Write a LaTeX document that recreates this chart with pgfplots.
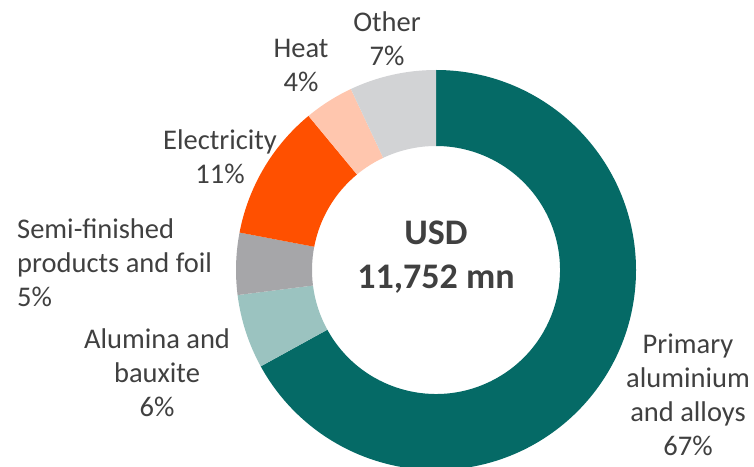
\documentclass[border=0pt]{standalone}
\usepackage{pgfplots}
\pgfplotsset{compat=1.18}
\usepackage{pgfplotstable}
\usepackage{fontspec}
\setmainfont{Carlito}

\definecolor{cPrim}{HTML}{056A66}
\definecolor{cAlum}{HTML}{9BC3C0}
\definecolor{cSemi}{HTML}{A6A6A9}
\definecolor{cElec}{HTML}{FF5000}
\definecolor{cHeat}{HTML}{FFC6AE}
\definecolor{cOther}{HTML}{D2D3D5}
\definecolor{txt}{HTML}{404040}

% share of total, percent, clockwise from 12 o'clock
\pgfplotstableread{
share color
67 cPrim
6  cAlum
5  cSemi
11 cElec
4  cHeat
7  cOther
}\shares

\newcommand\lbl{\fontsize{28.5}{34}\selectfont}

\begin{document}
\begin{tikzpicture}
\begin{axis}[
  hide axis, scale only axis,
  width=754pt, height=466pt,
  xmin=0, xmax=754, ymin=-466, ymax=0,
]
\coordinate (sw) at (rel axis cs:0,0);
\coordinate (ne) at (rel axis cs:1,1);

\pgfplotstablegetrowsof{\shares}
\pgfmathtruncatemacro\nrows{\pgfplotsretval-1}
\def\angA{90}
\pgfplotsforeachungrouped \i in {0,...,\nrows}{
  \pgfplotstablegetelem{\i}{share}\of\shares \let\wval\pgfplotsretval
  \pgfplotstablegetelem{\i}{color}\of\shares \let\wcol\pgfplotsretval
  \pgfmathsetmacro\angB{\angA-3.6*\wval}
  \edef\wedgecmd{\noexpand\fill[\wcol] (axis cs:436,-270) ++(\angA:200pt)
    arc[start angle=\angA, end angle=\angB, radius=200pt]
    -- ([shift={(\angB:124pt)}]axis cs:436,-270)
    arc[start angle=\angB, end angle=\angA, radius=124pt] -- cycle;}
  \wedgecmd
  \global\let\angA\angB
}

% anchor=base sits on the last line's baseline
\begin{scope}[every node/.style={text=txt, inner sep=0pt, font=\lbl}]
\node[anchor=base, align=center] at (axis cs:688,-455) {Primary\\aluminium\\and alloys\\67\%};
\node[anchor=base, align=center] at (axis cs:157,-416) {Alumina and\\bauxite\\6\%};
\node[anchor=base west, align=left] at (axis cs:17,-306) {Semi-finished\\products and foil\\5\%};
\node[anchor=base, align=center] at (axis cs:220,-184) {Electricity\\11\%};
\node[anchor=base, align=center] at (axis cs:301,-92) {Heat\\4\%};
\node[anchor=base, align=center] at (axis cs:387,-66) {Other\\7\%};
\node[anchor=base, align=center, font=\fontsize{36}{44}\selectfont\bfseries] at (axis cs:436,-289) {USD\\11,752 mn};
\end{scope}
\end{axis}
\pgfresetboundingbox
\path[use as bounding box] (sw) rectangle (ne);
\end{tikzpicture}
\end{document}
